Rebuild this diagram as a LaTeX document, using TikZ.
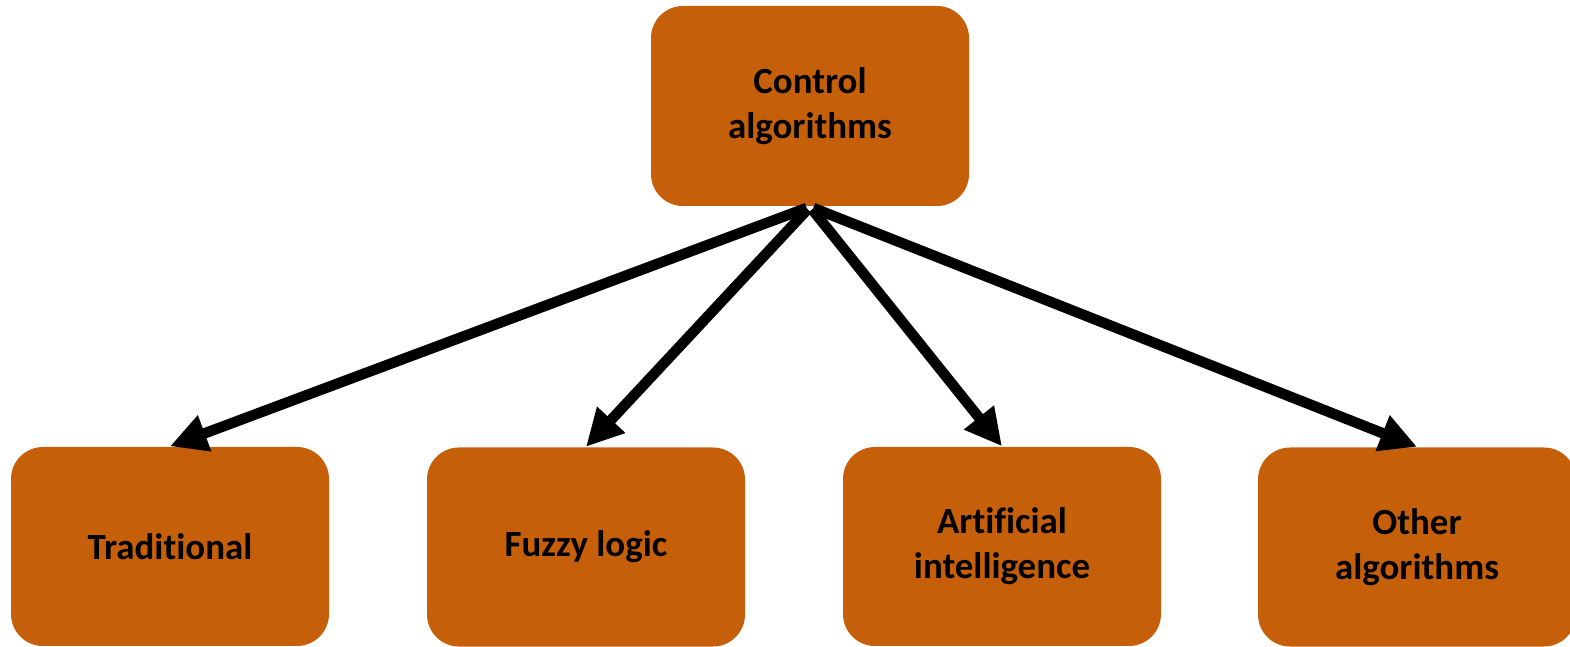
\documentclass[tikz,border=0pt]{standalone}
\usepackage{fontspec}
\setmainfont{Carlito}[Ligatures={NoCommon,NoContextual,NoRequired},Contextuals={NoAlternate}]
\usepackage{tikz}
\usetikzlibrary{arrows.meta,shapes,calc,backgrounds}
\usetikzlibrary{positioning}
\definecolor{boxorange}{HTML}{C65F09}
\tikzset{
    algbox/.style={
           rectangle,
           rounded corners=0.32cm,
           fill=boxorange,
           draw=none,
           minimum width=3.18cm,
           minimum height=1.99cm,
           align=center,
           font=\fontsize{10.5}{12.8}\selectfont\bfseries,
           },
    pil/.style={
           -{Triangle[length=0.37cm,width=0.36cm]},
           line width=0.105cm,
           shorten <=1pt,
           },
}
\begin{document}
\begin{tikzpicture}
\useasboundingbox (0,0) rectangle (15.70,-6.47);
\begin{scope}
\clip (0,0) rectangle (15.70,-6.47);
\node[algbox, minimum height=2.00cm] (a1) at (8.10,-1.06) {Control\\algorithms};
\node[algbox] (a2) at (1.70,-5.465) {Traditional};
\node[algbox] (a3) at (5.86,-5.47) {Fuzzy logic};
\node[algbox] (a4) at (10.02,-5.465) {Artificial\\intelligence};
\node[algbox] (a5) at (14.17,-5.47) {Other\\algorithms};
\end{scope}
\path (a1.south) edge[pil] (a2.north);
\path (a1.south) edge[pil] (a3.north);
\path (a1.south) edge[pil] (a4.north);
\path (a1.south) edge[pil] (a5.north);
\end{tikzpicture}
\end{document}
